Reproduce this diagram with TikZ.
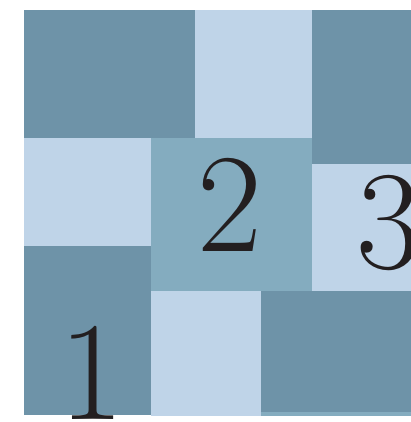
\documentclass[tikz,border=0pt]{standalone}
\usepackage{fontspec}
\definecolor{darkb}{RGB}{110,147,168}
\definecolor{lightb}{RGB}{191,212,232}
\definecolor{midb}{RGB}{132,172,191}
\definecolor{inkc}{RGB}{35,31,32}
\begin{document}
\begin{tikzpicture}[x=1pt,y=1pt,
  dk/.style={fill=darkb},
  lt/.style={fill=lightb},
  md/.style={fill=midb},
  digit/.style={inner sep=0pt,anchor=base,text=inkc,font=\fontsize{141}{141}\selectfont}]
\clip (0,0) rectangle (411,422);
% tiles
\path[md] (261,6) rectangle (411,10);
\path[dk] (24,284) rectangle (195,412);
\path[lt] (195,284) rectangle (311.5,412);
\path[dk] (311.5,258) rectangle (411,412);
\path[lt] (24,176) rectangle (151,284);
\path[md] (151,131) rectangle (311.5,284);
\path[lt] (311.5,131) rectangle (411,258);
\path[dk] (24,7) rectangle (151,176);
\path[lt] (151,6) rectangle (261,131);
\path[dk] (261,10) rectangle (411,131);
% labels
\node[digit] (n1) at (92,2) {1};
\node[digit] (n2) at (230,170) {2};
\node[digit] (n3) at (389,153) {3};
\end{tikzpicture}
\end{document}
